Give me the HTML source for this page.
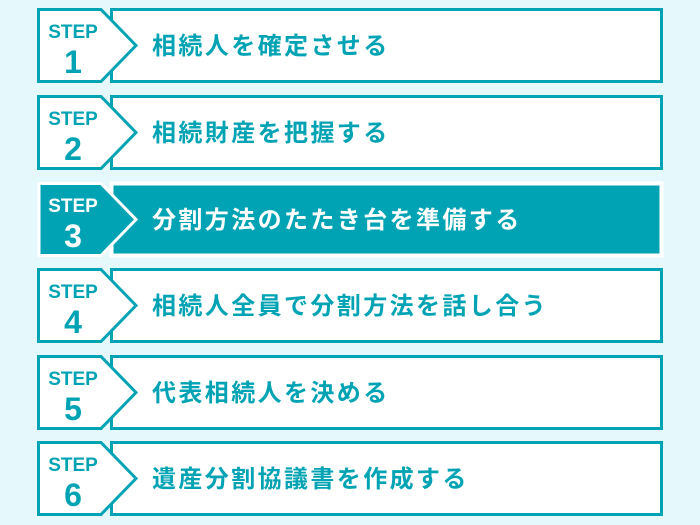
<!DOCTYPE html>
<html><head><meta charset="utf-8"><style>
html,body{margin:0;padding:0;background:#e5f9fc;}
svg{display:block}
text{font-family:"Liberation Sans","Noto Sans CJK JP",sans-serif;font-weight:bold;}
.m{font-size:24px;letter-spacing:2.4px}
</style></head><body>
<svg width="700" height="525" viewBox="0 0 700 525">
<rect width="700" height="525" fill="#e5f9fc"/>
<defs>
<g id="w">
<rect x="111.5" y="1.5" width="550" height="72" fill="#fff" stroke="#00a3b3" stroke-width="3"/>
<polygon points="38.5,1.5 101,1.5 136,37.5 101,73.5 38.5,73.5" fill="#fff" stroke="#00a3b3" stroke-width="3"/>
</g>
</defs>
<g transform="translate(0,8)">
<use href="#w"/>
<text x="73" y="30" font-size="19" fill="#00a3b3" text-anchor="middle">STEP</text>
<text x="73" y="65" font-size="32" fill="#00a3b3" text-anchor="middle">1</text>
<text x="152" y="46" class="m" fill="#00a3b3">相続人を確定させる</text>
</g>
<g transform="translate(0,95)">
<use href="#w"/>
<text x="73" y="30" font-size="19" fill="#00a3b3" text-anchor="middle">STEP</text>
<text x="73" y="65" font-size="32" fill="#00a3b3" text-anchor="middle">2</text>
<text x="152" y="46" class="m" fill="#00a3b3">相続財産を把握する</text>
</g>
<g transform="translate(0,182)">
<rect x="111.5" y="1.5" width="550" height="72" fill="#00a3b3" stroke="#fff" stroke-width="4"/>
<polygon points="39,1.5 101,1.5 136,37.5 101,73.5 39,73.5" fill="#00a3b3" stroke="#fff" stroke-width="3"/>
<text x="73" y="30" font-size="19" fill="#fff" text-anchor="middle">STEP</text>
<text x="73" y="65" font-size="32" fill="#fff" text-anchor="middle">3</text>
<text x="152" y="46" class="m" fill="#fff">分割方法のたたき台を準備する</text>
</g>
<g transform="translate(0,268)">
<use href="#w"/>
<text x="73" y="30" font-size="19" fill="#00a3b3" text-anchor="middle">STEP</text>
<text x="73" y="65" font-size="32" fill="#00a3b3" text-anchor="middle">4</text>
<text x="152" y="46" class="m" fill="#00a3b3">相続人全員で分割方法を話し合う</text>
</g>
<g transform="translate(0,355)">
<use href="#w"/>
<text x="73" y="30" font-size="19" fill="#00a3b3" text-anchor="middle">STEP</text>
<text x="73" y="65" font-size="32" fill="#00a3b3" text-anchor="middle">5</text>
<text x="152" y="46" class="m" fill="#00a3b3">代表相続人を決める</text>
</g>
<g transform="translate(0,441)">
<use href="#w"/>
<text x="73" y="30" font-size="19" fill="#00a3b3" text-anchor="middle">STEP</text>
<text x="73" y="65" font-size="32" fill="#00a3b3" text-anchor="middle">6</text>
<text x="152" y="46" class="m" fill="#00a3b3">遺産分割協議書を作成する</text>
</g>
</svg>
</body></html>
